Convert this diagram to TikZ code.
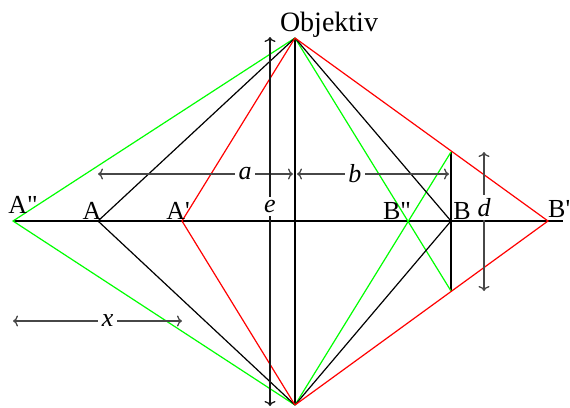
\documentclass[tikz,border=0pt]{standalone}
\usepackage{fontspec}
\newfontfamily\lab{Liberation Serif}
\usetikzlibrary{arrows.meta}
\begin{document}
\begin{tikzpicture}[x=1pt,y=-1pt,
  ln/.style={line width=1.2pt},
  grn/.style={ln,color=green},
  rd/.style={ln,color=red},
  dim/.style={line width=1.3pt,color=black!72,{To[length=5pt,width=11pt]}-{To[length=5pt,width=11pt]}},
  dimv/.style={dim,color=black!90},
  pt/.style={font=\lab\fontsize{26}{30}\selectfont,anchor=base,inner sep=0pt},
  ml/.style={font=\lab\itshape\fontsize{26}{30}\selectfont,fill=white,inner sep=3.5pt,text=black}]
\useasboundingbox (0,0) rectangle (570,407);
% points
\coordinate (O) at (295,38);
\coordinate (U) at (295,405);
\coordinate (App) at (13,221);
\coordinate (A) at (98,221);
\coordinate (Ap) at (182,221);
\coordinate (Bpp) at (407.7,221);
\coordinate (B) at (451,221);
\coordinate (Bp) at (548,221);
\coordinate (Bt) at (451,152);
\coordinate (Bb) at (451,291);
\coordinate (Lend) at (563,221);
% axis lines
\draw[ln] (App) -- (Lend);
\draw[ln] (O) -- (U);
\draw[ln] (Bt) -- (Bb);
% rays
\draw[grn] (O) -- (App) -- (U);
\draw[grn] (O) -- (Bb);
\draw[grn] (U) -- (Bt);
\draw[ln] (O) -- (A) -- (U);
\draw[ln] (O) -- (B) -- (U);
\draw[rd] (O) -- (Ap) -- (U);
\draw[rd] (O) -- (Bp) -- (U);
% dimension ends
\coordinate (a1) at (98,174);
\coordinate (a2) at (293,174);
\coordinate (b1) at (297,174);
\coordinate (b2) at (449,174);
\coordinate (e1) at (270,37);
\coordinate (e2) at (270,406);
\coordinate (d1) at (484,152);
\coordinate (d2) at (484,291);
\coordinate (x1) at (13,321);
\coordinate (x2) at (182,321);
\draw[dim] (a1) -- node[ml,pos=0.755] (la) {a} (a2);
\draw[dim] (b1) -- node[ml,pos=0.38] (lb) {b} (b2);
\draw[dimv] (e1) -- node[ml,pos=0.46] (le) {e} (e2);
\draw[dim] (d1) -- node[ml,pos=0.4] (ld) {d} (d2);
\draw[dim] (x1) -- node[ml,pos=0.56] (lx) {x} (x2);
% labels
\node[pt,font=\lab\fontsize{28}{32}\selectfont] (obj) at (329,31) {Objektiv};
\node[pt] (tApp) at (23,213) {A"};
\node[pt] (tA) at (92,219) {A};
\node[pt] (tAp) at (178,219) {A'};
\node[pt] (tBpp) at (397,219) {B"};
\node[pt] (tB) at (462,219) {B};
\node[pt,anchor=base west] (tBp) at (548,217) {B'};
\end{tikzpicture}
\end{document}
